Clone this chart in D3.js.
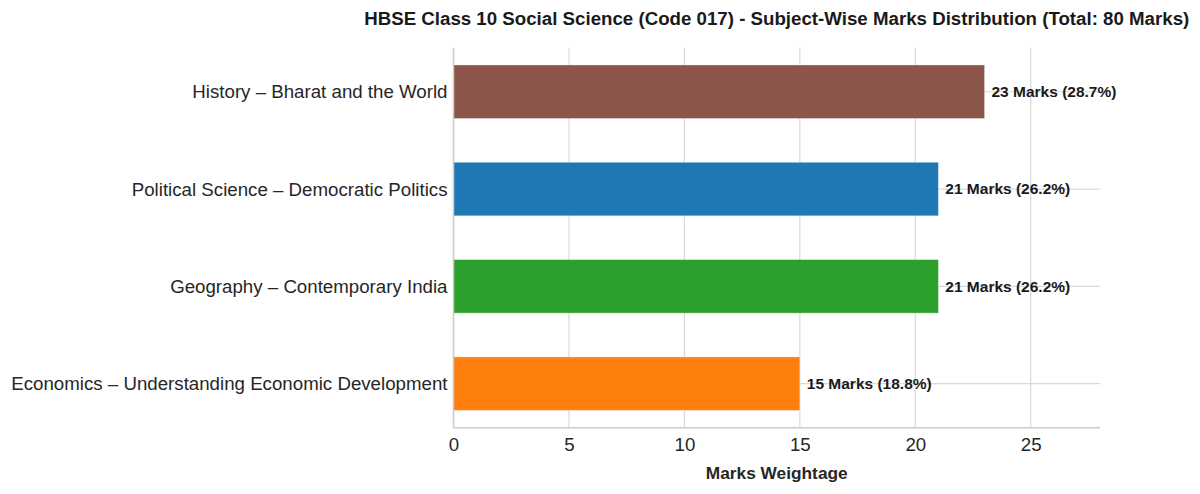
<!DOCTYPE html>
<html>
<head>
<meta charset="utf-8">
<script src="https://cdn.jsdelivr.net/npm/d3@7"></script>
<style>
  body { margin: 0; background: #fff; }
  text { font-family: "Liberation Sans", Arial, sans-serif; }
</style>
</head>
<body>
<div id="chart"></div>
<script>
var svgWidth = 1200;
var svgHeight = 494;

// data, bottom to top as drawn
var subjects = [
  "Economics – Understanding Economic Development",
  "Geography – Contemporary India",
  "Political Science – Democratic Politics",
  "History – Bharat and the World"
];
var marks = [15, 21, 21, 23];
var percents = ["18.8", "26.2", "26.2", "28.7"];
var barColors = ["#ff7f0e", "#2ca02c", "#1f77b4", "#8c564b"];
var xTicks = [0, 5, 10, 15, 20, 25];

var margin = { top: 47.7, right: 100, bottom: 66.3, left: 453.5 };
var width = svgWidth - margin.left - margin.right;
var height = svgHeight - margin.top - margin.bottom;

var svg = d3.select("#chart")
  .append("svg")
  .attr("width", svgWidth)
  .attr("height", svgHeight);

var chartGroup = svg.append("g")
  .attr("transform", `translate(${margin.left}, ${margin.top})`);

var barHeight = 0.55;

var xLinearScale = d3.scaleLinear()
  .domain([0, 28])
  .range([0, width]);

// matplotlib-like y limits: bars +/- half height plus 5% margin
var yLow = -barHeight / 2, yHigh = subjects.length - 1 + barHeight / 2;
var pad = (yHigh - yLow) * 0.05;
var yLinearScale = d3.scaleLinear()
  .domain([yLow - pad, yHigh + pad])
  .range([height, 0]);

var gridColor = "#d9d9d9";

// vertical grid
chartGroup.append("g")
  .selectAll("line")
  .data(xTicks)
  .enter()
  .append("line")
  .attr("x1", d => xLinearScale(d))
  .attr("x2", d => xLinearScale(d))
  .attr("y1", 0)
  .attr("y2", height)
  .attr("stroke", gridColor)
  .attr("stroke-width", 1.2);

// horizontal grid at categories
chartGroup.append("g")
  .selectAll("line")
  .data(subjects)
  .enter()
  .append("line")
  .attr("x1", 0)
  .attr("x2", width)
  .attr("y1", (d, i) => yLinearScale(i))
  .attr("y2", (d, i) => yLinearScale(i))
  .attr("stroke", gridColor)
  .attr("stroke-width", 1.2);

// bars
var barPx = yLinearScale(0) - yLinearScale(barHeight);
chartGroup.selectAll("rect.bar")
  .data(marks)
  .enter()
  .append("rect")
  .attr("class", "bar")
  .attr("x", xLinearScale(0))
  .attr("y", (d, i) => yLinearScale(i + barHeight / 2))
  .attr("width", d => xLinearScale(d) - xLinearScale(0))
  .attr("height", barPx)
  .attr("fill", (d, i) => barColors[i])
  .attr("stroke", "#ffffff")
  .attr("stroke-opacity", 0.4)
  .attr("stroke-width", 0.8);

// value labels
chartGroup.selectAll("text.val")
  .data(marks)
  .enter()
  .append("text")
  .attr("class", "val")
  .attr("x", d => xLinearScale(d + 0.3))
  .attr("y", (d, i) => yLinearScale(i))
  .attr("dy", "0.35em")
  .attr("font-size", 15.5)
  .attr("font-weight", "bold")
  .attr("fill", "#1a1a1a")
  .text((d, i) => `${d} Marks (${percents[i]}%)`);

// spines
chartGroup.append("line")
  .attr("x1", 0).attr("x2", 0)
  .attr("y1", 0).attr("y2", height)
  .attr("stroke", "#cccccc").attr("stroke-width", 1.5);
chartGroup.append("line")
  .attr("x1", 0).attr("x2", width)
  .attr("y1", height).attr("y2", height)
  .attr("stroke", "#cccccc").attr("stroke-width", 1.5);

// x axis tick labels
var bottomAxis = d3.axisBottom(xLinearScale)
  .tickValues(xTicks)
  .tickSize(0)
  .tickPadding(10);
var xAxis = chartGroup.append("g")
  .attr("transform", `translate(0, ${height})`)
  .call(bottomAxis);
xAxis.select(".domain").remove();
xAxis.selectAll("text")
  .attr("font-size", 18.7)
  .attr("font-family", "Liberation Sans, Arial, sans-serif")
  .attr("fill", "#262626");

// y axis category labels
var leftAxis = d3.axisLeft(yLinearScale)
  .tickValues(d3.range(subjects.length))
  .tickFormat(i => subjects[i])
  .tickSize(0)
  .tickPadding(6);
var yAxis = chartGroup.append("g").call(leftAxis);
yAxis.select(".domain").remove();
yAxis.selectAll("text")
  .attr("font-size", 18.7)
  .attr("font-family", "Liberation Sans, Arial, sans-serif")
  .attr("fill", "#262626");

// axis title
chartGroup.append("text")
  .attr("x", width / 2)
  .attr("y", height + 51)
  .attr("text-anchor", "middle")
  .attr("font-size", 17.3)
  .attr("font-weight", "bold")
  .attr("fill", "#262626")
  .text("Marks Weightage");

// chart title
svg.append("text")
  .attr("x", margin.left + width / 2)
  .attr("y", 25)
  .attr("text-anchor", "middle")
  .attr("font-size", 18.7)
  .attr("font-weight", "bold")
  .attr("fill", "#1a1a1a")
  .text("HBSE Class 10 Social Science (Code 017) - Subject-Wise Marks Distribution (Total: 80 Marks)");
</script>
</body>
</html>
